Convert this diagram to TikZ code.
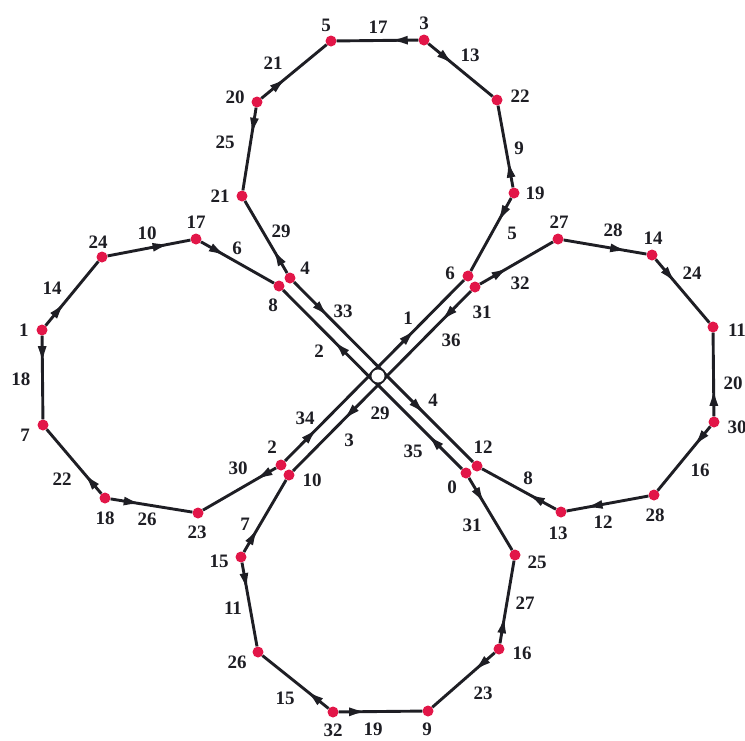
\documentclass[tikz,border=0pt]{standalone}
\usepackage{fontspec}
\setmainfont{Liberation Serif}
\usetikzlibrary{arrows.meta,decorations.markings}

\definecolor{dotred}{RGB}{226,22,72}
\definecolor{ink}{RGB}{30,30,36}

\tikzset{
  vtx/.style={circle,fill=dotred,inner sep=0pt,minimum size=11pt},
  hub/.style={circle,draw=ink,fill=white,line width=1.8pt,inner sep=0pt,minimum size=15pt},
  edge/.style={ink,line width=2.9pt},
  arr/.style={postaction={decorate},decoration={markings,
      mark=at position #1 with {\arrow{Latex[length=18pt,width=9pt]}}}},
  lbl/.style={text=ink,font=\fontsize{19}{19}\selectfont\bfseries,inner sep=0pt},
}

\begin{document}
\begin{tikzpicture}[x=1pt,y=-1pt]
    \useasboundingbox (0,0) rectangle (745,740);
    % vertices of the four loops
    \foreach \n/\x/\y in {4/290/278, 8/279/286, 21/242/196, 20/257/102, 5/331/41,
        3/424/40, 22/497/100, 19/514/193, 6/468/276, 31/475/287,
        27/558/239, 14/652/255, 11/713/327, 30/714/422, 28/654/495, 13/561/512,
        12/477/466, 0/466/473, 25/515/555, 16/499/649, 9/428/711, 32/333/712,
        26/258/652, 15/241/557, 10/289/475, 2/281/465, 23/198/513, 18/105/498,
        7/43/425, 1/42/330, 24/102/257, 17/196/239}
        \node[vtx] (v\n) at (\x,\y) {};
    % ends of the double lines under the hub
    \coordinate (c4) at (383.5,372);
    \coordinate (c8) at (372.5,380);
    \coordinate (c6) at (374.5,370.5);
    \coordinate (c31) at (381.5,381.5);
    \coordinate (c12) at (383.5,372.5);
    \coordinate (c0) at (372.5,379.5);
    \coordinate (c2) at (374,371);
    \coordinate (c10) at (382,381);
    % edges on the loops
    \foreach \a/\b/\p in {4/21/0.34, 20/21/0.34, 20/5/0.39, 3/5/0.35, 3/22/0.4,
        19/22/0.34, 19/6/0.34,
        31/27/0.4, 27/14/0.78, 14/11/0.38, 30/11/0.34, 30/28/0.32, 28/13/0.78,
        13/12/0.39,
        0/25/0.37, 16/25/0.34, 16/9/0.34, 32/9/0.34, 32/26/0.34, 15/26/0.34, 15/10/0.34,
        17/8/0.35, 24/17/0.76, 1/24/0.37, 1/7/0.34, 18/7/0.32, 18/23/0.38, 2/23/0.29}
        \draw[edge,arr=\p] (v\a) -- (v\b);
    % double lines through the hub
    \draw[edge,arr=0.39] (v4) -- (c4);
    \draw[edge,arr=0.44] (c8) -- (v8);
    \draw[edge,arr=0.46] (c6) -- (v6);
    \draw[edge,arr=0.34] (v31) -- (c31);
    \draw[edge,arr=0.47] (c12) -- (v12);
    \draw[edge,arr=0.39] (v0) -- (c0);
    \draw[edge,arr=0.37] (v2) -- (c2);
    \draw[edge,arr=0.44] (c10) -- (v10);
    \node[hub] (v29) at (378,376) {};
    % vertex labels
    \foreach \n/\x/\y in {4/305/268, 8/273/305, 21/220/196, 20/235/97, 5/326/25,
        3/424/23, 22/520/96, 19/535/193, 6/450/273, 31/482/312,
        27/559/222, 14/653/238, 11/737/330, 30/737/427, 28/655/515, 13/558/533,
        12/483/447, 0/452/487, 25/537/562, 16/522/653, 9/427/729, 32/333/730,
        26/237/662, 15/219/561, 10/312/480, 2/272/447, 23/197/532, 18/105/518,
        7/25/435, 1/24/330, 24/98/242, 17/196/222, 29/380/413}
        \node[lbl] (t\n) at (\x,\y) {\n};
    % edge labels
    \foreach \t/\x/\y in {29/281/231, 25/225/142, 21/273/63, 17/378/27, 13/470/55,
        9/519/148, 5/512/233, 33/343/311, 2/319/351, 1/408/318, 36/451/340,
        32/520/283, 28/613/230, 24/692/273, 20/733/383, 16/700/470, 12/603/522,
        8/528/478, 4/433/400, 35/413/451,
        3/349/440, 34/305/418, 30/238/468, 7/245/524, 11/233/608, 15/285/698,
        19/373/729, 23/483/693, 27/525/603, 31/472/525,
        6/237/248, 10/147/233, 14/52/288, 18/21/379, 22/62/479, 26/147/519}
        \node[lbl] (e\t) at (\x,\y) {\t};
\end{tikzpicture}
\end{document}
